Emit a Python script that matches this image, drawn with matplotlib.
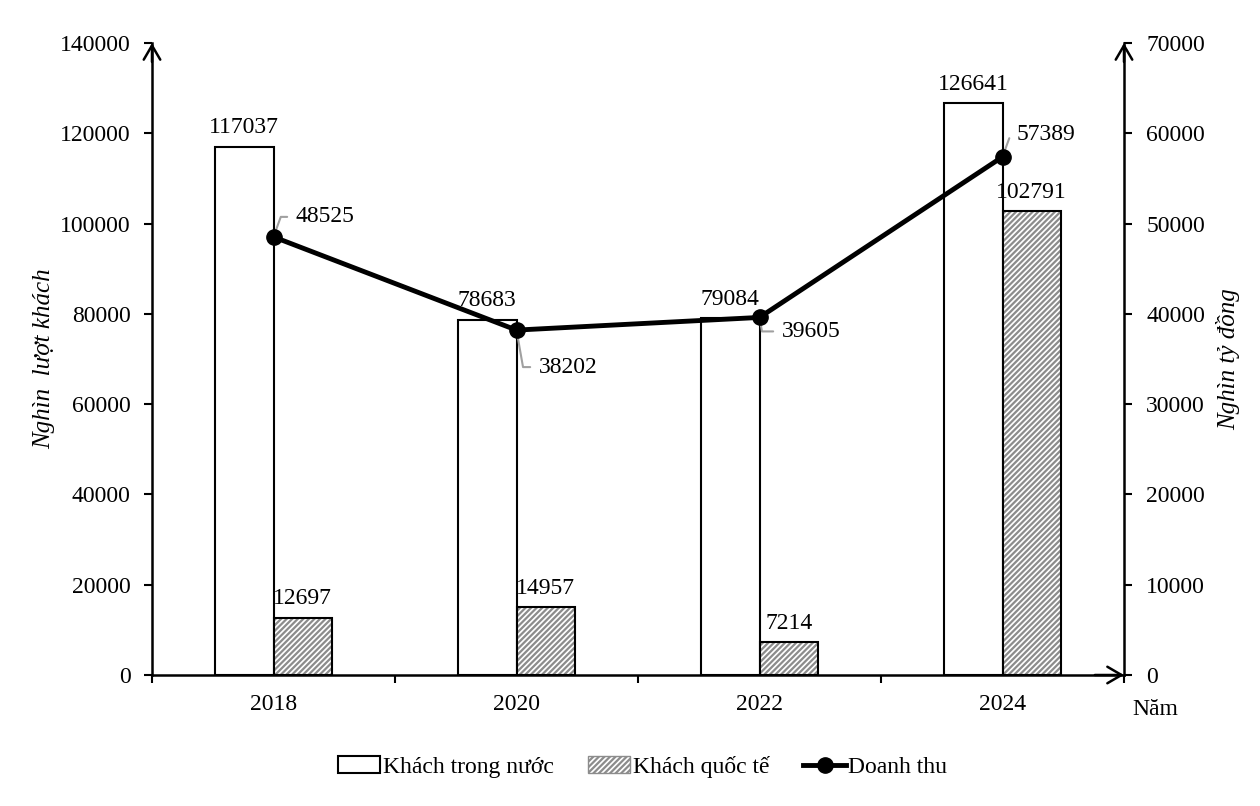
import numpy as np
import matplotlib
matplotlib.use('Agg')
import matplotlib.pyplot as plt
from matplotlib.patches import Patch
from matplotlib.lines import Line2D

plt.rcParams['font.family'] = ['Liberation Serif', 'DejaVu Serif']
plt.rcParams['font.size'] = 17
plt.rcParams['hatch.linewidth'] = 1.6

years = ['2018', '2020', '2022', '2024']
khach_trong_nuoc = [117037, 78683, 79084, 126641]
khach_quoc_te = [12697, 14957, 7214, 102791]
doanh_thu = [48525, 38202, 39605, 57389]

fig = plt.figure(figsize=(12.6, 8.06), dpi=100)
ax = fig.add_axes([152/1260, 1-675/806, (1124-152)/1260, (675-43)/806])
ax2 = ax.twinx()

x = np.arange(len(years))
w = 0.24

b1 = ax.bar(x - w/2, khach_trong_nuoc, w, facecolor='white', edgecolor='black', linewidth=1.5, zorder=2)
ax.bar(x + w/2, khach_quoc_te, w, facecolor='white', edgecolor='#8c8c8c', linewidth=0, hatch='//////', zorder=2)
b2 = ax.bar(x + w/2, khach_quoc_te, w, facecolor='none', edgecolor='black', linewidth=1.5, zorder=3)
ax.bar_label(b1, labels=[str(v) for v in khach_trong_nuoc], padding=6, fontsize=17)
ax.bar_label(b2, labels=[str(v) for v in khach_quoc_te], padding=6, fontsize=17)

ax.set_xlim(-0.5, 3.5)
ax.set_ylim(0, 140000)
ax2.set_ylim(0, 70000)
ax.set_yticks(np.arange(0, 140001, 20000))
ax2.set_yticks(np.arange(0, 70001, 10000))

ax.set_xticks(np.arange(-0.5, 3.6, 1))
ax.set_xticklabels([])
ax.set_xticks(x, minor=True)
ax.set_xticklabels(years, minor=True)
ax.tick_params(axis='x', which='major', direction='out', length=6, width=1.5)
ax.tick_params(axis='x', which='minor', length=0, pad=14)
ax.tick_params(axis='y', direction='out', length=6, width=1.5, pad=9.5)
ax2.tick_params(axis='y', direction='out', length=6, width=1.5, pad=10)

for a in (ax, ax2):
    a.spines['top'].set_visible(False)
    for s in a.spines.values():
        s.set_linewidth(1.8)
ax.spines['right'].set_visible(False)
ax2.spines['left'].set_visible(False)
ax2.spines['bottom'].set_visible(False)

ax.set_ylabel('Nghìn  lượt khách', style='italic', fontsize=18, labelpad=3)
ax2.set_ylabel('Nghìn tỷ đồng', style='italic', fontsize=18, rotation=90, labelpad=8)
ax.text(1.032, -0.054, 'Năm', transform=ax.transAxes, ha='center', va='center', fontsize=17)

# arrows at axis ends
arr = dict(arrowstyle='->, head_length=0.6, head_width=0.35', color='black', lw=1.8, shrinkA=0, shrinkB=0)
ax.annotate('', xy=(0, 1.0), xytext=(0, 0.97), xycoords='axes fraction', arrowprops=arr, annotation_clip=False)
ax.annotate('', xy=(1, 1.0), xytext=(1, 0.97), xycoords='axes fraction', arrowprops=arr, annotation_clip=False)
ax.annotate('', xy=(1, 0), xytext=(0.97, 0), xycoords='axes fraction', arrowprops=arr, annotation_clip=False)

ax2.plot(x, doanh_thu, color='black', linewidth=3.5, marker='o', markersize=11, zorder=5)
ax2.set_zorder(ax.get_zorder() + 1)
ax2.patch.set_visible(False)

offsets = [(22, 20), (22, -37), (22, -14), (14, 22)]
for xi, v, off in zip(x, doanh_thu, offsets):
    ax2.annotate(str(v), (xi, v), xytext=off, textcoords='offset pixels', ha='left', va='center',
                 fontsize=17,
                 arrowprops=dict(arrowstyle='-', color='#a0a0a0', lw=1.5, relpos=(0, 0.5),
                                 shrinkA=4, shrinkB=2,
                                 connectionstyle='angle,angleA=0,angleB=%d' % (70 if off[1] > 0 else -80)))

handles = [Patch(facecolor='white', edgecolor='black', linewidth=1.5),
           Patch(facecolor='white', edgecolor='#8c8c8c', hatch='//////', linewidth=1),
           Line2D([], [], color='black', linewidth=3.5, marker='o', markersize=11)]
fig.legend(handles, ['Khách trong nước', 'Khách quốc tế', 'Doanh thu'], loc='center',
           bbox_to_anchor=(0.51, 1-767/806), ncol=3, frameon=False, fontsize=17,
           handlelength=1.8, handletextpad=0.1, columnspacing=1.45)

fig.savefig('out.png', dpi=100)
